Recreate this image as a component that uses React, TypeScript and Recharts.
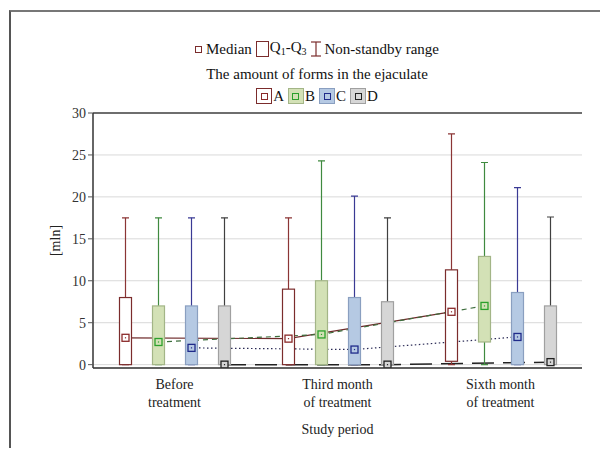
import React from "react";
import {
  ComposedChart,
  Bar,
  Line,
  XAxis,
  YAxis,
  CartesianGrid,
  ReferenceLine,
  Label,
} from "recharts";

const periods = ["Before treatment", "Third month of treatment", "Sixth month of treatment"];
const periodLines = [
  ["Before", "treatment"],
  ["Third month", "of treatment"],
  ["Sixth month", "of treatment"],
];
const yTicks = [0, 5, 10, 15, 20, 25, 30];

// A
const lowA = [0, 0, 0];
const q1A = [0, 0, 0.4];
const medianA = [3.2, 3.1, 6.3];
const q3A = [8, 9, 11.3];
const highA = [17.5, 17.5, 27.5];
// B
const lowB = [0, 0, 0];
const q1B = [0, 0, 2.7];
const medianB = [2.7, 3.6, 7.0];
const q3B = [7, 10, 12.9];
const highB = [17.5, 24.3, 24.1];
// C
const lowC = [0, 0, 0];
const q1C = [0, 0, 0];
const medianC = [2.0, 1.8, 3.3];
const q3C = [7, 8, 8.6];
const highC = [17.5, 20.1, 21.1];
// D
const lowD = [0, 0, 0];
const q1D = [0, 0, 0];
const medianD = [0, 0, 0.3];
const q3D = [7, 7.5, 7];
const highD = [17.5, 17.5, 17.6];

const FONT = '"Liberation Serif", "Times New Roman", serif';
const BAR_SIZE = 13;
const BAR_GAP = 20;
const PLOT_W = 489;

const SERIES = [
  { key: "A", low: lowA, q1: q1A, median: medianA, q3: q3A, high: highA, fill: "#ffffff", stroke: "#7b2c2c", whisker: "#8b3535", marker: "#8b2a2a", line: "#6e2a2a", dash: undefined },
  { key: "B", low: lowB, q1: q1B, median: medianB, q3: q3B, high: highB, fill: "#d3e1b6", stroke: "#a3b587", whisker: "#3f8a3f", marker: "#2ca02c", line: "#3d6e3d", dash: "5 4" },
  { key: "C", low: lowC, q1: q1C, median: medianC, q3: q3C, high: highC, fill: "#b5c9e3", stroke: "#8a9fc0", whisker: "#3a3a94", marker: "#1f2a8a", line: "#2a2a55", dash: "1.5 2.5" },
  { key: "D", low: lowD, q1: q1D, median: medianD, q3: q3D, high: highD, fill: "#d6d6d6", stroke: "#a0a0a0", whisker: "#404040", marker: "#222222", line: "#222222", dash: "22 9" },
];

const rows = periods.map((p, i) => {
  const r: any = { period: p };
  SERIES.forEach((s) => {
    r[s.key] = { low: s.low[i], q1: s.q1[i], median: s.median[i], q3: s.q3[i], high: s.high[i] };
  });
  return r;
});

const makeBoxShape = (s: any) => (props: any) => {
  const { x, y, width, height, payload } = props;
  const st = payload && payload[s.key];
  if (!st || x == null || y == null) return <g />;
  const top = Math.min(y, y + height);
  const bot = Math.max(y, y + height);
  const k = (bot - top) / (st.high - st.low);
  const py = (v: number) => bot - (v - st.low) * k;
  const cx = x + width / 2;
  return (
    <g>
      <line x1={cx} x2={cx} y1={py(st.high)} y2={py(st.q3)} stroke={s.whisker} strokeWidth={1.2} />
      <line x1={cx - 3.5} x2={cx + 3.5} y1={py(st.high)} y2={py(st.high)} stroke={s.whisker} strokeWidth={1.2} />
      <line x1={cx} x2={cx} y1={py(st.q1)} y2={py(st.low)} stroke={s.whisker} strokeWidth={1.2} />
      <line x1={cx - 3.5} x2={cx + 3.5} y1={py(st.low)} y2={py(st.low)} stroke={s.whisker} strokeWidth={1.2} />
      <rect x={x + 0.5} y={py(st.q3)} width={width - 1} height={py(st.q1) - py(st.q3)} fill={s.fill} stroke={s.stroke} strokeWidth={1.2} />
      <rect x={cx - 3.5} y={py(st.median) - 3.5} width={7} height={7} fill={s.fill} stroke={s.marker} strokeWidth={1.3} />
      <rect x={cx - 0.6} y={py(st.median) - 0.6} width={1.2} height={1.2} fill={s.marker} />
    </g>
  );
};

const lineData = (s: any, j: number) =>
  s.median.map((m: number, i: number) => ({
    x: i + 0.5 + ((j - 1.5) * (BAR_SIZE + BAR_GAP)) / (PLOT_W / 3),
    y: m,
  }));

const rangeKey = (k: string) => (r: any) => (r && r[k] ? [r[k].low, r[k].high] : null);

const XTick = (props: any) => {
  const { x, y, payload } = props;
  const idx = periods.indexOf(payload.value);
  const lines = periodLines[idx] || [String(payload.value), ""];
  return (
    <text x={x} y={y} textAnchor="middle" fontFamily={FONT} fontSize={14} fill="#222">
      <tspan x={x} dy={13}>{lines[0]}</tspan>
      <tspan x={x} dy={18}>{lines[1]}</tspan>
    </text>
  );
};

const rowStyle: React.CSSProperties = {
  position: "absolute",
  left: 26,
  width: 566,
  display: "flex",
  justifyContent: "center",
  alignItems: "center",
  fontFamily: FONT,
  fontSize: 15,
  color: "#111",
  height: 18,
  lineHeight: "18px",
};

const Legend = () => (
  <>
    <div style={{ ...rowStyle, top: 32 }}>
      <span style={{ width: 5, height: 5, border: "1px solid #7b2c2c", marginRight: 4, display: "inline-block" }} />
      <span>Median</span>
      <span style={{ width: 11, height: 14, border: "1px solid #7b2c2c", margin: "0 1px 0 4px", display: "inline-block" }} />
      <span>
        Q<sub style={{ fontSize: 10, verticalAlign: "-3px" }}>1</sub>-Q<sub style={{ fontSize: 10, verticalAlign: "-3px" }}>3</sub>
      </span>
      <svg width={14} height={16} style={{ margin: "0 1px 0 3px" }}>
        <line x1={2} x2={12} y1={1} y2={1} stroke="#7b2c2c" strokeWidth={1.2} />
        <line x1={7} x2={7} y1={1} y2={15} stroke="#7b2c2c" strokeWidth={1.2} />
        <line x1={2} x2={12} y1={15} y2={15} stroke="#7b2c2c" strokeWidth={1.2} />
      </svg>
      <span>Non-standby range</span>
    </div>
    <div style={{ ...rowStyle, top: 57 }}>The amount of forms in the ejaculate</div>
    <div style={{ ...rowStyle, top: 79 }}>
      {SERIES.map((s) => (
        <span key={s.key} style={{ display: "inline-flex", alignItems: "center", margin: "0 2px" }}>
          <span
            style={{
              width: 14,
              height: 14,
              border: `1px solid ${s.stroke}`,
              background: s.fill,
              display: "inline-flex",
              alignItems: "center",
              justifyContent: "center",
              marginRight: 1,
            }}
          >
            <span style={{ width: 5, height: 5, border: `1.3px solid ${s.marker}` }} />
          </span>
          <span>{s.key}</span>
        </span>
      ))}
    </div>
  </>
);

export default function App() {
  return (
    <div style={{ position: "relative", width: 592, height: 440, background: "#fff" }}>
      <div
        style={{
          position: "absolute",
          left: 1,
          top: 2,
          width: 600,
          height: 450,
          borderTop: "2px solid #777",
          borderLeft: "2px solid #555",
          pointerEvents: "none",
        }}
      />
      <ComposedChart
        width={592}
        height={440}
        data={rows}
        margin={{ top: 105, right: 18, bottom: 0, left: 25 }}
        barSize={BAR_SIZE}
        barGap={BAR_GAP}
      >
        <CartesianGrid horizontal vertical={false} stroke="#d9d9d9" />
        <XAxis
          xAxisId="cat"
          dataKey="period"
          type="category"
          height={80}
          tickLine={false}
          axisLine={{ stroke: "#333", strokeWidth: 1.5 }}
          tick={<XTick />}
          interval={0}
        >
          <Label value="Study period" position="insideBottom" offset={14} fontFamily={FONT} fontSize={14} fill="#222" />
        </XAxis>
        <XAxis xAxisId="num" dataKey="x" type="number" domain={[0, 3]} hide allowDataOverflow />
        <YAxis
          domain={[-0.4, 30]}
          ticks={yTicks}
          width={60}
          allowDataOverflow
          tickSize={5}
          tickMargin={2}
          tick={{ fontFamily: FONT, fontSize: 14, fill: "#333" }}
          axisLine={{ stroke: "#333", strokeWidth: 1.5 }}
          tickLine={{ stroke: "#555" }}
        >
          <Label
            content={(p: any) => {
              const vb = p.viewBox || { x: 25, y: 105, width: 60, height: 255 };
              const lx = vb.x + 22;
              const ly = vb.y + vb.height / 2;
              return (
                <text x={lx} y={ly} transform={`rotate(-90 ${lx} ${ly})`} textAnchor="middle" dominantBaseline="central" fontFamily={FONT} fontSize={14} fill="#222">
                  [mln]
                </text>
              );
            }}
          />
        </YAxis>
        <YAxis
          yAxisId="r"
          orientation="right"
          domain={[-0.4, 30]}
          ticks={yTicks}
          width={0}
          mirror
          tick={{ fill: "none" }}
          tickSize={4}
          allowDataOverflow
          axisLine={{ stroke: "#444", strokeWidth: 1.5 }}
          tickLine={{ stroke: "#444" }}
        />
        <ReferenceLine y={30} stroke="#444" strokeWidth={1.5} xAxisId="cat" />
        {SERIES.map((s, j) => (
          <Line
            key={"l" + s.key}
            xAxisId="num"
            data={lineData(s, j)}
            dataKey="y"
            type="linear"
            stroke={s.line}
            strokeWidth={s.key === "D" ? 1.5 : 1.2}
            strokeDasharray={s.dash}
            dot={false}
            activeDot={false}
            isAnimationActive={false}
            {...({ zIndex: 250 } as any)}
          />
        ))}
        {SERIES.map((s) => (
          <Bar
            key={"b" + s.key}
            xAxisId="cat"
            dataKey={rangeKey(s.key)}
            shape={makeBoxShape(s)}
            isAnimationActive={false}
            {...({ zIndex: 300 } as any)}
          />
        ))}
      </ComposedChart>
      <Legend />
    </div>
  );
}
